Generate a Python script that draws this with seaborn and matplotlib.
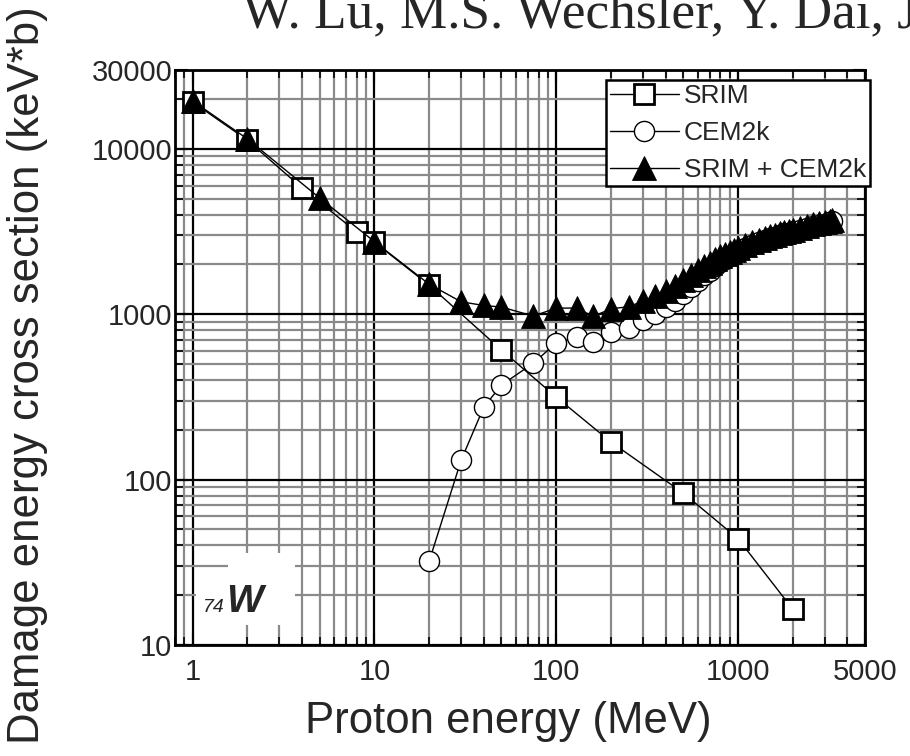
import matplotlib
matplotlib.use("Agg")
import matplotlib.pyplot as plt
import seaborn as sns
from matplotlib.patches import Rectangle
from matplotlib.ticker import FixedLocator, FixedFormatter, LogLocator, NullFormatter

# ---- data ----
srim_energy = [1, 2, 4, 8, 10, 20, 50, 100, 200, 500, 1000, 2000]
srim_value = [19200, 11300, 5800, 3140, 2730, 1500, 608, 316, 169, 83, 44, 16.5]

cem_energy = [20, 30, 40, 50, 75, 100, 130, 160, 200, 250, 300, 350, 400, 450, 500,
              550, 600, 650, 700, 750, 800, 850, 900, 950, 1000, 1100, 1200, 1300,
              1400, 1500, 1600, 1700, 1800, 1900, 2000, 2200, 2400, 2600, 2800, 3000,
              3200, 3300]
cem_value = [32, 131, 275, 373, 507, 670, 727, 680, 780, 826, 920, 1010, 1100, 1210, 1330,
             1460, 1590, 1720, 1820, 1960, 2070, 2150, 2260, 2330, 2400, 2530, 2640, 2720,
             2820, 2880, 2940, 3020, 3080, 3120, 3170, 3250, 3330, 3410, 3470, 3530,
             3590, 3640]

sum_energy = [1, 2, 5, 10, 20, 30, 40, 50, 75, 100, 130, 160, 200, 250, 300, 350, 400,
              450, 500, 550, 600, 650, 700, 750, 800, 850, 900, 950, 1000, 1100, 1200,
              1300, 1400, 1500, 1600, 1700, 1800, 1900, 2000, 2200, 2400, 2600, 2800,
              3000, 3200, 3300]
sum_value = [19500, 11500, 5050, 2750, 1520, 1190, 1130, 1106, 975, 1090, 1090, 970, 1080,
             1110, 1200, 1290, 1390, 1480, 1610, 1720, 1850, 1950, 2030, 2160, 2240, 2300,
             2390, 2440, 2500, 2610, 2720, 2800, 2900, 2960, 3020, 3100, 3160, 3200, 3250,
             3330, 3420, 3500, 3560, 3620, 3680, 3700]

series_labels = ["SRIM", "CEM2k", "SRIM + CEM2k"]
x_ticks = [1, 10, 100, 1000, 5000]
x_ticklabels = ["1", "10", "100", "1000", "5000"]
y_ticks = [10, 100, 1000, 10000, 30000]
y_ticklabels = ["10", "100", "1000", "10000", "30000"]

# ---- style ----
sns.set_style("ticks")
plt.rcParams["font.family"] = ["Liberation Sans", "DejaVu Sans"]

W, H = 910, 756
fig = plt.figure(figsize=(W / 100, H / 100), dpi=100)
L, R, T, B = 175, 865, 70, 645
ax = fig.add_axes([L / W, 1 - B / H, (R - L) / W, (B - T) / H])


def ax_x(px):
    return (px - L) / (R - L)


def ax_y(py):
    return (B - py) / (B - T)


ax.set_xscale("log")
ax.set_yscale("log")

line_kw = dict(color="black", linewidth=1.0, sort=True, ax=ax)
sns.lineplot(x=srim_energy, y=srim_value, marker="s", markersize=14,
             markerfacecolor="white", markeredgecolor="black", markeredgewidth=2.0,
             label=series_labels[0], zorder=3, **line_kw)
sns.lineplot(x=cem_energy, y=cem_value, marker="o", markersize=14.5,
             markerfacecolor="white", markeredgecolor="black", markeredgewidth=1.0,
             label=series_labels[1], zorder=4, **line_kw)
sns.lineplot(x=sum_energy, y=sum_value, marker="^", markersize=17,
             markerfacecolor="black", markeredgecolor="black", markeredgewidth=0.6,
             label=series_labels[2], zorder=5, **line_kw)

ax.set_xlim(0.8, 5000)
ax.set_ylim(10, 30000)

ax.xaxis.set_major_locator(FixedLocator(x_ticks))
ax.xaxis.set_major_formatter(FixedFormatter(x_ticklabels))
ax.xaxis.set_minor_locator(LogLocator(base=10, subs=range(2, 10), numticks=20))
ax.xaxis.set_minor_formatter(NullFormatter())
ax.yaxis.set_major_locator(FixedLocator(y_ticks))
ax.yaxis.set_major_formatter(FixedFormatter(y_ticklabels))
ax.yaxis.set_minor_locator(LogLocator(base=10, subs=range(2, 10), numticks=20))
ax.yaxis.set_minor_formatter(NullFormatter())

ax.set_axisbelow(True)
ax.grid(which="minor", color="#8a8a8a", linewidth=1.6)
ax.grid(which="major", color="black", linewidth=1.6)
ax.tick_params(which="both", direction="in", top=True, right=True, color="black")
ax.tick_params(which="major", length=9, width=1.5, labelsize=21)
ax.tick_params(axis="x", which="major", pad=9)
ax.tick_params(axis="y", which="major", pad=2)
ax.tick_params(which="minor", length=6, width=1.2)
for s in ax.spines.values():
    s.set_linewidth(2)
    s.set_color("black")

ax.set_xlabel("")
ax.set_ylabel("")

leg = ax.legend(loc="upper right", bbox_to_anchor=(ax_x(870), ax_y(80)),
                frameon=True, fancybox=False, shadow=False, framealpha=1,
                edgecolor="black", fontsize=19, handlelength=2.6, handletextpad=0.2,
                borderpad=0.15, labelspacing=0.5, borderaxespad=0)
leg.get_frame().set_linewidth(1.8)
leg.set_zorder(10)

# element label with white background patches
for (x0, y0, x1, y1) in [(196, 575, 228, 625), (228, 553, 295, 625)]:
    ax.add_patch(Rectangle((ax_x(x0), ax_y(y1)), ax_x(x1) - ax_x(x0), ax_y(y0) - ax_y(y1),
                           transform=ax.transAxes, facecolor="white", edgecolor="none",
                           zorder=5.5))
ax.text(ax_x(203), ax_y(612), "74", transform=ax.transAxes, fontsize=14,
        style="italic", ha="left", va="baseline", zorder=6)
ax.text(ax_x(226), ax_y(612), "W", transform=ax.transAxes,
        fontsize=28, fontweight="bold", style="italic", ha="left", va="baseline",
        zorder=6)

fig.text(28 / W, 1 - 375 / H, "Damage energy cross section (keV*b)", rotation=90,
         fontsize=31.5, ha="center", va="center")
fig.text(508 / W, 1 - 722 / H, "Proton energy (MeV)", fontsize=31.5,
         ha="center", va="center")
fig.text(242 / W, 1 - 27 / H, "W. Lu, M.S. Wechsler, Y. Dai, J",
         family=["Liberation Serif", "DejaVu Serif"], fontsize=38.3,
         ha="left", va="baseline")

fig.savefig("out.png", dpi=100)
